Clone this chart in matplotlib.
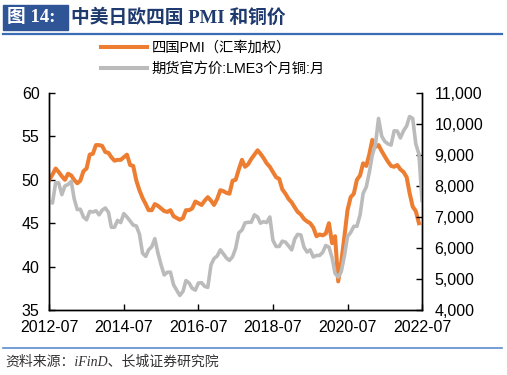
import pandas as pd
import matplotlib
matplotlib.use("Agg")
import matplotlib.pyplot as plt
import matplotlib.dates as mdates
from matplotlib.lines import Line2D
from matplotlib.patches import Rectangle
from matplotlib.ticker import FuncFormatter

plt.rcParams['font.family'] = ['Liberation Sans', 'Noto Sans CJK SC', 'DejaVu Sans']

# PMI of the four economies (FX weighted), monthly 2012-07 .. 2022-06
pmi = [50.0, 50.6, 51.3, 50.9, 50.4, 50.0, 50.7, 50.5, 50.0, 49.6, 49.9, 51.0,
       51.3, 52.9, 53.0, 54.0, 54.0, 53.9, 53.2, 53.1, 52.6, 52.2, 52.3, 52.3,
       52.6, 52.9, 51.7, 51.6, 49.9, 48.8, 47.9, 47.2, 46.5, 46.5, 47.2, 47.0,
       46.7, 46.4, 46.3, 46.5, 45.8, 45.6, 45.4, 45.6, 46.5, 46.5, 46.7, 47.5,
       47.3, 47.1, 47.6, 48.0, 47.6, 47.1, 47.8, 48.8, 48.7, 48.5, 48.4, 49.9,
       50.0, 51.2, 52.3, 51.5, 51.8, 52.4, 52.9, 53.4, 53.0, 52.5, 51.9, 51.5,
       50.9, 50.3, 50.1, 48.9, 48.4, 47.8, 47.4, 46.8, 46.3, 46.0, 45.5, 45.2,
       45.0, 44.5, 43.5, 43.7, 43.6, 43.8, 45.0, 42.7, 43.5, 38.3, 40.5, 43.5,
       46.5, 48.0, 48.4, 50.0, 50.5, 51.9, 51.6, 53.0, 54.6, 53.8, 54.0, 53.3,
       52.7, 52.1, 51.6, 51.5, 51.7, 51.2, 50.9, 50.3, 48.5, 46.9, 46.4, 45.0]

# LME 3-month copper, monthly 2012-07 .. 2022-07
copper = [7500, 7450, 8100, 8100, 7720, 8000, 8050, 8150, 7600, 7240, 7250, 7000,
          6910, 7180, 7160, 7200, 7070, 7220, 7290, 7150, 6670, 6670, 6890, 6820,
          7110, 7000, 6870, 6740, 6710, 6450, 5830, 5730, 5940, 6040, 6300, 5830,
          5460, 5130, 5220, 5220, 4810, 4640, 4470, 4600, 4950, 4870, 4700, 4640,
          4870, 4880, 4760, 4730, 5450, 5660, 5740, 5940, 5820, 5680, 5600, 5720,
          5990, 6490, 6580, 6810, 6830, 6830, 7070, 7000, 6800, 6850, 6820, 7000,
          6250, 6050, 6050, 6220, 6190, 6070, 5940, 6300, 6440, 6420, 6030, 5870,
          5940, 5710, 5760, 5760, 5860, 6080, 6030, 5690, 5180, 5060, 5240, 5750,
          6370, 6500, 6700, 6700, 7060, 7760, 7970, 8460, 9000, 9340, 10180, 9610,
          9440, 9360, 9320, 9780, 9770, 9550, 9780, 9940, 10240, 10180, 9360, 9030,
          7530]

pmi_dates = pd.date_range('2012-07-01', periods=len(pmi), freq='MS')
cu_dates = pd.date_range('2012-07-01', periods=len(copper), freq='MS')

label_pmi = '四国PMI（汇率加权）'
label_cu = '期货官方价:LME3个月铜:月'

orange = '#ED7D31'
grey = '#BBBBBB'

fig = plt.figure(figsize=(5.07, 3.75), dpi=100)
ax = fig.add_axes([49.3 / 507, 1 - 310 / 375, (422 - 49.3) / 507, (310 - 93) / 375])
ax2 = ax.twinx()

ax.plot(pmi_dates, pmi, color=orange, lw=2.9, solid_joinstyle='round')
ax2.plot(cu_dates, copper, color=grey, lw=2.6, solid_joinstyle='round')

ax.set_xlim(pd.Timestamp('2012-07-01'), pd.Timestamp('2022-07-01'))
ax.set_ylim(35, 60)
ax.set_yticks([35, 40, 45, 50, 55, 60])
ax2.set_ylim(4000, 11000)
ax2.set_yticks(range(4000, 11001, 1000))
ax2.yaxis.set_major_formatter(FuncFormatter(lambda v, p: f'{v:,.0f}'))

ax.xaxis.set_major_locator(mdates.MonthLocator(bymonth=7, interval=24))
ax.xaxis.set_major_formatter(mdates.DateFormatter('%Y-%m'))

for a in (ax, ax2):
    a.spines['top'].set_visible(False)
    for s in a.spines.values():
        s.set_color('#000000')
        s.set_linewidth(1.0)
ax.tick_params(axis='y', direction='in', length=4, width=1, labelsize=11.5, pad=7)
ax.tick_params(axis='x', direction='in', length=4, width=1, labelsize=11.5, pad=7)
ax2.tick_params(axis='y', direction='in', length=4, width=1, labelsize=11.5, pad=9)

# legend
handles = [Line2D([], [], color=orange, lw=2.9), Line2D([], [], color=grey, lw=2.9)]
fig.legend(handles, [label_pmi, label_cu], loc='upper left',
           bbox_to_anchor=(101 / 507, 1 - 41 / 375), frameon=False,
           fontsize=10.3, handlelength=3.2, handletextpad=0.35, labelspacing=0.5,
           borderaxespad=0, borderpad=0)

# title bar
fig.patches.append(Rectangle((3 / 507, 1 - 30 / 375), 65 / 507, 25 / 375,
                             transform=fig.transFigure, color='#2F5597'))
fig.text(7 / 507, 1 - 18 / 375, '图 14:', color='white', fontsize=13.5, fontweight='bold',
         va='center', ha='left', family=['Liberation Serif', 'Noto Sans CJK SC'])
fig.text(71 / 507, 1 - 18 / 375, '中美日欧四国 PMI 和铜价', color='#1F3A6E', fontsize=13.5,
         fontweight='bold', va='center', ha='left',
         family=['Liberation Serif', 'Noto Sans CJK SC'])
fig.add_artist(Line2D([3 / 507, 502 / 507], [1 - 33.5 / 375, 1 - 33.5 / 375],
                      color='#3A6BB5', lw=1.6, transform=fig.transFigure))

# footer
fig.add_artist(Line2D([3 / 507, 502 / 507], [1 - 348 / 375, 1 - 348 / 375],
                      color='#5B8BD0', lw=1.2, transform=fig.transFigure))
fig.text(5 / 507, 1 - 362 / 375, '资料来源：iFinD、长城证券研究院', color='#333333',
         fontsize=10, style='italic', va='center', ha='left',
         family=['Liberation Serif', 'Noto Sans CJK SC'])

fig.savefig('out.png', dpi=100, facecolor='white')
